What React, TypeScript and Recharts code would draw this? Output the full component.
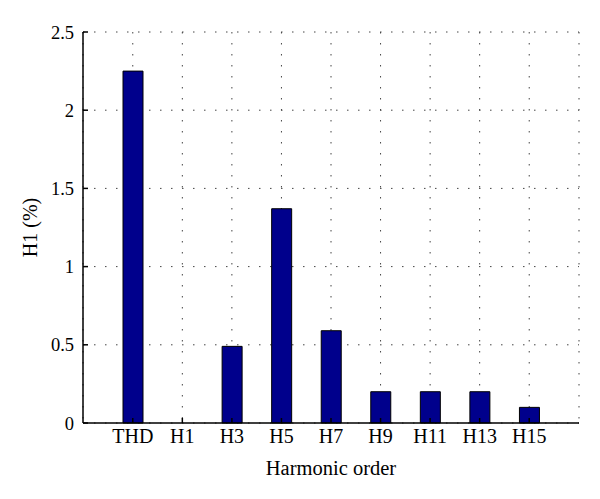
import { BarChart, Bar, XAxis, YAxis, CartesianGrid } from "recharts";

const CATEGORIES = ["THD", "H1", "H3", "H5", "H7", "H9", "H11", "H13", "H15"];
const H1_PERCENT = [2.25, 0, 0.49, 1.37, 0.59, 0.2, 0.2, 0.2, 0.1];
const Y_TICKS = [0, 0.5, 1, 1.5, 2, 2.5];

const data = CATEGORIES.map((name, i) => ({ name, value: H1_PERCENT[i] }));

const FONT = "'Liberation Serif', 'DejaVu Serif', serif";
const tickStyle = { fill: "#000", fontSize: 18.5, fontFamily: FONT };

export default function App() {
  return (
    <div style={{ position: "absolute", left: 0, top: 0, background: "#fff" }}>
      <BarChart
        width={600}
        height={499}
        data={data}
        margin={{ top: 32, right: 21, bottom: 0, left: 0 }}
        barCategoryGap={0}
      >
        <CartesianGrid
          stroke="#444"
          strokeDasharray="1.5 9.5"
          xAxisId="bottom"
          yAxisId="left"
        />
        <XAxis
          xAxisId="bottom"
          dataKey="name"
          height={76}
          padding={{ left: 25, right: 25 }}
          tick={{ ...tickStyle, fontSize: 20 }}
          tickSize={-5}
          tickMargin={11}
          stroke="#000"
          strokeWidth={1.5}
          interval={0}
        
          label={{
            value: "Harmonic order",
            position: "insideBottom",
            offset: 24,
            style: { fill: "#000", fontSize: 20.5, fontFamily: FONT },
          }}
        />
        <XAxis
          xAxisId="top"
          orientation="top"
          dataKey="name"
          height={0}
          padding={{ left: 25, right: 25 }}
          tick={false}
          tickSize={-5}
          stroke="#000"
          strokeWidth={1.5}
          interval={0}
        />
        <YAxis
          yAxisId="left"
          width={83}
          domain={[0, 2.5]}
          ticks={Y_TICKS}
          tick={tickStyle}
          tickSize={-5}
          tickMargin={14}
          stroke="#000"
          strokeWidth={1.5}
          label={{
            value: "H1 (%)",
            angle: -90,
            position: "insideLeft",
            offset: 30,
            style: { fill: "#000", fontSize: 20, fontFamily: FONT, textAnchor: "middle" },
          }}
        />
        <YAxis
          yAxisId="right"
          orientation="right"
          width={0}
          domain={[0, 2.5]}
          ticks={Y_TICKS}
          tick={false}
          tickSize={-5}
          stroke="#000"
          strokeWidth={1.5}
        />
        <Bar
          dataKey="value"
          xAxisId="bottom"
          yAxisId="left"
          barSize={20}
          fill="#00008c"
          stroke="#000"
          strokeWidth={1}
          isAnimationActive={false}
        />
      </BarChart>
    </div>
  );
}
